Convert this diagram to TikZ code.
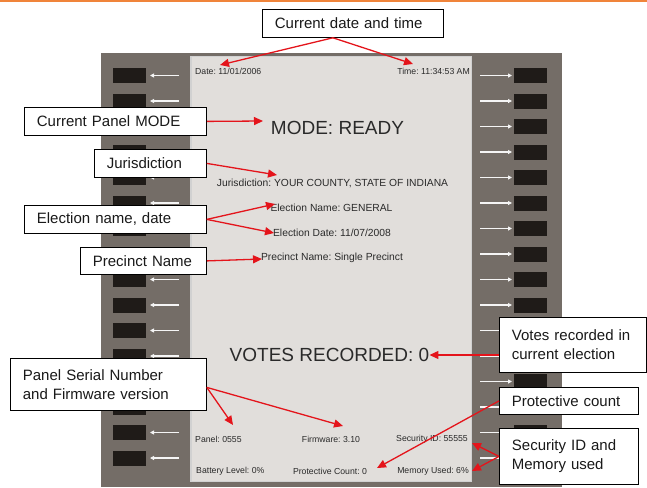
\documentclass[tikz,border=0pt]{standalone}
\usepackage{fontspec}
\setmainfont{Liberation Sans}
\usetikzlibrary{arrows.meta}
\frenchspacing
\definecolor{ocre}{RGB}{240,132,58}
\definecolor{panneau}{RGB}{116,109,103}
\definecolor{ecran}{RGB}{225,222,219}
\definecolor{touche}{RGB}{31,27,24}
\definecolor{rouge}{RGB}{228,20,27}
\definecolor{texte}{RGB}{42,42,42}
\tikzset{
  bulle/.style={draw=black, fill=white, line width=0.8pt, anchor=north west, align=left,
    inner xsep=12.5pt, inner ysep=0pt, font=\fontsize{15}{19}\selectfont, text=black!90},
  fleche/.style={rouge, line width=1.3pt, -{Triangle[length=9pt,width=8pt]}},
  petit/.style={texte, inner sep=0pt, font=\fontsize{8.7}{10}\selectfont},
  moyen/.style={texte, inner sep=0pt, font=\fontsize{10.3}{12}\selectfont},
  grand/.style={texte, inner sep=0pt, font=\fontsize{19}{22}\selectfont}
}
\begin{document}
\begin{tikzpicture}[x=1pt,y=-1pt]
\useasboundingbox (0,0) rectangle (647,487);
\fill [ocre] (0,0) rectangle (647,2.5);
\fill [panneau] (101,53) rectangle (562,487);
\fill [ecran] (190,56) rectangle (472,482);
\draw [black!18, line width=1.5pt] (190.75,56.75) rectangle (471.25,481.25);
\foreach \k in {0,1,...,15} {
  \fill [touche] (113,{68+25.5*\k}) rectangle (146,{83+25.5*\k});
  \fill [touche] (514,{68+25.5*\k}) rectangle (547,{83+25.5*\k});
  \draw [white!92!gray, line width=1.4pt, -{Triangle[length=4pt,width=4pt]}] (179,{75.5+25.5*\k}) -- (150,{75.5+25.5*\k});
  \draw [white!92!gray, line width=1.4pt, -{Triangle[length=4pt,width=4pt]}] (480,{75.5+25.5*\k}) -- (512,{75.5+25.5*\k});
}
% screen texts
\node [petit, anchor=west] (datetxt) at (195,71) {Date: 11/01/2006};
\node [petit, anchor=east] (timetxt) at (470,71) {Time: 11:34:53 AM};
\node [grand] (modetxt) at (337.5,128) {MODE: READY};
\node [moyen] (jurtxt) at (332.5,183) {Jurisdiction: YOUR COUNTY, STATE OF INDIANA};
\node [moyen] (enametxt) at (331.5,208) {Election Name: GENERAL};
\node [moyen] (edatetxt) at (332,233) {Election Date: 11/07/2008};
\node [moyen] (prectxt) at (332,258) {Precinct Name: Single Precinct};
\node [grand] (votestxt) at (329.5,355) {VOTES RECORDED: 0};
\node [petit, anchor=west] (paneltxt) at (195,439) {Panel: 0555};
\node [petit] (firmtxt) at (331,439) {Firmware: 3.10};
\node [petit, anchor=east] (sectxt) at (468,439) {Security ID: 55555};
\node [petit, anchor=west] (battxt) at (196,471) {Battery Level: 0\%};
\node [petit] (protxt) at (330,471) {Protective Count: 0};
\node [petit, anchor=east] (memtxt) at (469,471) {Memory Used: 6\%};
% callouts
\node [bulle, text width=156pt, minimum height=28pt] (dtbox) at (262,9) {Current date and time};
\node [bulle, text width=157pt, minimum height=28pt] (modebox) at (24,107) {Current Panel MODE};
\node [bulle, text width=87pt, minimum height=28pt] (jurbox) at (94,149) {Jurisdiction};
\node [bulle, text width=157pt, minimum height=28pt] (elecbox) at (24,205) {Election name, date};
\node [bulle, text width=101pt, minimum height=27pt] (precbox) at (80,247) {Precinct Name};
\node [bulle, text width=171pt, minimum height=52pt] (serialbox) at (10,358) {Panel Serial Number\\and Firmware version};
\node [bulle, text width=122pt, minimum height=55pt] (votesbox) at (499,317) {Votes recorded in\\current election};
\node [bulle, text width=114pt, minimum height=27pt] (protbox) at (499,387) {Protective count};
\node [bulle, text width=114pt, minimum height=56pt] (secbox) at (499,428) {Security ID and\\Memory used};
% arrow tips
\coordinate (pdate) at (220,65);
\coordinate (ptime) at (413,64);
\coordinate (pmode) at (263,121);
\coordinate (pjur) at (277,175);
\coordinate (pename) at (275,204);
\coordinate (pedate) at (274,233);
\coordinate (pprec) at (262,259);
\coordinate (ppanel) at (233,425);
\coordinate (pfirm) at (343,426);
\coordinate (pprot) at (377,468);
\coordinate (psec) at (472,443);
\coordinate (pmem) at (472,471);
\draw [fleche] ([xshift=-20pt]dtbox.south) -- (pdate);
\draw [fleche] ([xshift=-20pt]dtbox.south) -- (ptime);
\draw [fleche] (modebox.east) -- (pmode);
\draw [fleche] (jurbox.east) -- (pjur);
\draw [fleche] (elecbox.east) -- (pename);
\draw [fleche] (elecbox.east) -- (pedate);
\draw [fleche] (precbox.east) -- (pprec);
\draw [fleche] ([yshift=-3pt]serialbox.east) -- (ppanel);
\draw [fleche] ([yshift=-3pt]serialbox.east) -- (pfirm);
\draw [fleche] (votesbox.west |- votestxt) -- (votestxt.east);
\draw [fleche] (protbox.west) -- (pprot);
\draw [fleche] (secbox.west) -- (psec);
\draw [fleche] (secbox.west) -- (pmem);
\end{tikzpicture}
\end{document}
